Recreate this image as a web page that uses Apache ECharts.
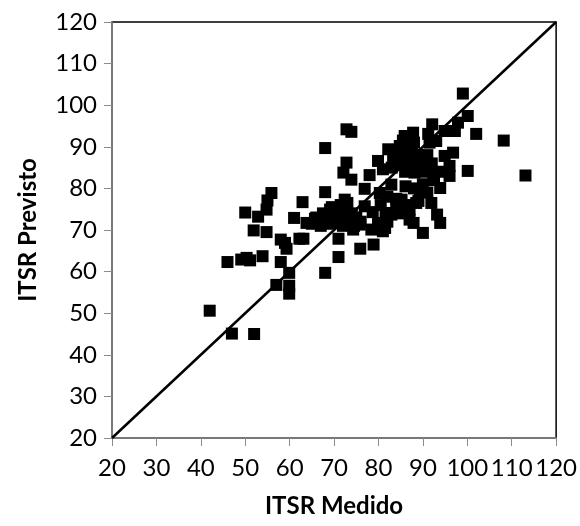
<!DOCTYPE html>
<html><head><meta charset="utf-8">
<script src="https://cdn.jsdelivr.net/npm/echarts@6/dist/echarts.min.js"></script>
<style>html,body{margin:0;padding:0;background:#fff}#c{width:580px;height:526px}</style>
</head><body><div id="c"></div>
<script>
const measured = [42,47,52,46,49.1,50.3,51.1,53.9,50,52.9,51.9,54.8,54.8,55,55.9,58,57,59.9,59.9,59.9,58,59.3,58.95,61,62.9,62.2,63.1,63.8,65.7,66.8,68,68,68,69.1,69.8,71,71,72.8,73.9,72.8,72.1,73.9,71.3,72.4,73.6,74.3,75.8,76.9,75.9,76.9,78,78.7,78.4,78.9,79.9,81,79.9,80.3,81,81.6,82.9,82.9,82.2,83.3,84,84.8,85.2,85.9,86.1,87,87,87.8,88.1,87.9,88.5,89.3,89.3,90,90.4,91.2,92.1,91.9,92.3,93,93.2,93.9,93.9,94.9,94.9,96,96,96.8,97.2,97.9,99,100.1,100.1,102,108.2,113.1,
66,67,68,69,70,70.5,71,72,72.5,73,74,74.5,69.5,71.5,73,75,76,65,67.5,
84,85,86,86.5,87.5,88,84.5,83,86,87,89,89.5,90,88.5,85.5,91,92,83.5,91.5,
82,84,86,85,88,90,91,89,87,92.5,94,82,80.5,81.5];
const predicted = [50.6,45.1,45,62.3,62.9,63.3,62.7,63.7,74.2,73.2,69.9,69.5,74.9,77.1,78.9,62.3,56.8,59.7,56.6,54.7,67.7,65.5,66.9,72.9,76.7,67.9,67.9,71.7,72.7,72.1,59.7,89.7,79.1,74.9,71.7,67.9,63.5,94.2,93.6,86.2,83.8,82.1,74.9,77.3,73.3,70.1,71.3,75.7,65.5,79.9,83.2,74.3,70.1,66.5,71.7,69.7,86.6,78.9,84.6,74.1,80.9,73.7,89.4,87.8,75.7,90.2,77.3,92.6,80.5,74.9,88.6,93.4,83.8,71.7,76.5,79.7,87.8,69.3,85.4,93.1,95.4,76.5,83.8,91.4,73.7,71.7,80.1,93.8,87.8,83,85.4,88.6,93.8,95.8,102.8,97.4,84.2,93.1,91.5,83.1,
73,71,72.5,71.5,73,72,74,71,73,72,74,71,75.5,76,76.5,73,72,71.5,74,
88,89,87,90,89.5,91,86,85,84,86,88,86,84,85.5,91.5,88,86,88.5,91,
78,77.5,76,74,80,81,79,77,72.5,82,84,72,76,70.5];
const axisMin = 20, axisMax = 120, axisStep = 10;
const identityLine = [[20,20],[120,120]];
const xTitle = 'ITSR Medido', yTitle = 'ITSR Previsto';

const pts = measured.map((x,i)=>[x,predicted[i]]);
const chart = echarts.init(document.getElementById('c'));
const font = 'Lato, "Open Sans", sans-serif';
const gray = '#8c8c8c';
chart.setOption({
  animation:false,
  grid:{left:112,right:23,top:22,bottom:88,show:true,borderColor:'#000',borderWidth:1.5},
  xAxis:[{type:'value',min:axisMin,max:axisMax,interval:axisStep,
    axisLine:{show:true,onZero:false,lineStyle:{color:gray,width:1.5}},
    axisTick:{show:true,length:8,lineStyle:{color:gray}},
    splitLine:{show:false},
    axisLabel:{color:'#000',fontSize:24,fontFamily:font,margin:18},
    name:xTitle,nameLocation:'middle',nameGap:56,
    nameTextStyle:{color:'#000',fontSize:24,fontWeight:'bold',fontFamily:font}}],
  yAxis:[{type:'value',min:axisMin,max:axisMax,interval:axisStep,
    axisLine:{show:true,onZero:false,lineStyle:{color:gray,width:1.5}},
    axisTick:{show:true,length:8,lineStyle:{color:gray}},
    splitLine:{show:false},
    axisLabel:{color:'#000',fontSize:24,fontFamily:font,margin:15},
    name:yTitle,nameLocation:'middle',nameGap:72,
    nameTextStyle:{color:'#000',fontSize:24,fontWeight:'bold',fontFamily:font}}],
  series:[
    {type:'line',data:identityLine,symbol:'none',lineStyle:{color:'#000',width:2.5},z:1,silent:true},
    {type:'scatter',data:pts,symbol:'rect',symbolSize:12,itemStyle:{color:'#000',opacity:1},z:2}
  ]
});
</script></body></html>
